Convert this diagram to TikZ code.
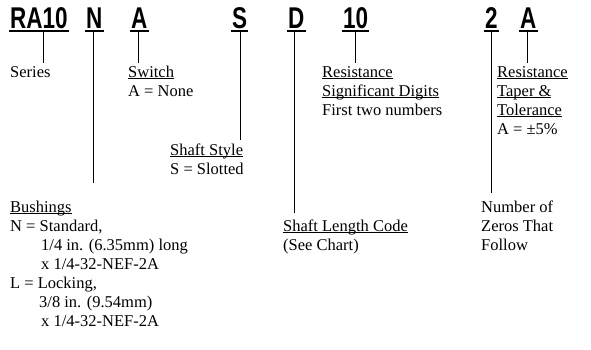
\documentclass[tikz,border=0pt]{standalone}
\usepackage{fontspec}
\setmainfont{Liberation Serif}
\newfontfamily\codefont{Liberation Sans}
\newcommand\codetxt[1]{\scalebox{0.75}[1]{\codefont\bfseries\fontsize{30}{30}\selectfont #1}}
\newcommand\uln[1]{\setbox0\hbox{#1}\rlap{\rule[-2pt]{\wd0}{0.7pt}}\box0}
\newcommand\blk[1]{\fontsize{16.5}{19}\selectfont\begin{tabular}[t]{@{}l@{}}#1\end{tabular}}
\tikzset{
  code/.style={anchor=base west, inner sep=0pt},
  lbl/.style={anchor=base west, inner sep=0pt},
  lead/.style={line width=0.8pt},
  codeline/.style={line width=1.2pt}
}
\begin{document}
\begin{tikzpicture}[x=1pt,y=-1pt]
\useasboundingbox (0,0) rectangle (591,349);
% codes
\node[code] (c1) at (10,28) {\codetxt{RA10}};
\node[code] (c2) at (86,28) {\codetxt{N}};
\node[code] (c3) at (131,28) {\codetxt{A}};
\node[code] (c4) at (232,28) {\codetxt{S}};
\node[code] (c5) at (288,28) {\codetxt{D}};
\node[code] (c6) at (343,28) {\codetxt{10}};
\node[code] (c7) at (485,28) {\codetxt{2}};
\node[code] (c8) at (520,28) {\codetxt{A}};
\foreach \c in {c1,c2,c3,c4,c5,c6,c7,c8}{
  \draw[codeline] ([shift={(-1pt,-3pt)}]\c.base west) -- ([shift={(1pt,-3pt)}]\c.base east);
}
% labels
\node[lbl] (l1) at (10,77) {\blk{Series}};
\node[lbl] (l2) at (128,77) {\blk{\uln{Switch}\\A = None}};
\node[lbl] (l3) at (170,155) {\blk{\uln{Shaft Style}\\S = Slotted}};
\node[lbl] (l4) at (10,212) {\blk{\uln{Bushings}\\N = Standard,\\\hspace*{31pt}1/4 in. (6.35mm) long\\\hspace*{31pt}x 1/4-32-NEF-2A\\L = Locking,\\\hspace*{29pt}3/8 in. (9.54mm)\\\hspace*{31pt}x 1/4-32-NEF-2A}};
\node[lbl] (l5) at (283,231) {\blk{\uln{Shaft Length Code}\\(See Chart)}};
\node[lbl] (l6) at (322,77) {\blk{\uln{Resistance}\\\uln{Significant Digits}\\First two numbers}};
\node[lbl] (l7) at (497,77) {\blk{\uln{Resistance}\\\uln{Taper \&}\\\uln{Tolerance}\\A = ±5\%}};
\node[lbl] (l8) at (481,212) {\blk{Number of\\Zeros That\\Follow}};
% leader ends
\coordinate (t1) at (43,32);  \coordinate (e1) at (43,63);
\coordinate (t2) at (93,32);  \coordinate (e2) at (93,183);
\coordinate (t3) at (138,32); \coordinate (e3) at (138,63);
\coordinate (t4) at (240,32); \coordinate (e4) at (240,140);
\coordinate (t5) at (294,32); \coordinate (e5) at (294,213);
\coordinate (t6) at (355,32); \coordinate (e6) at (355,63);
\coordinate (t7) at (491,32); \coordinate (e7) at (491,193);
\coordinate (t8) at (527,32); \coordinate (e8) at (527,63);
\foreach \i in {1,...,8}{\draw[lead] (t\i) -- (e\i);}
\end{tikzpicture}
\end{document}
